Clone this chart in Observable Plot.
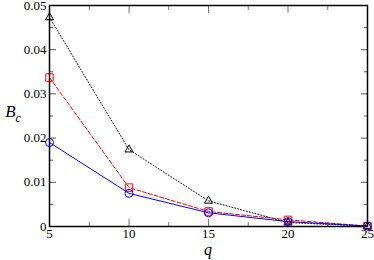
<!DOCTYPE html>
<html><head><meta charset="utf-8">
<script src="https://cdn.jsdelivr.net/npm/d3@7"></script>
<script src="https://cdn.jsdelivr.net/npm/@observablehq/plot@0.6"></script>
<style>body{margin:0;background:#fff}</style>
</head><body>
<div id="chart"></div>
<script>
const q = [5, 10, 15, 20, 25];
const triangle = [0.0473, 0.0174, 0.0058, 0.0009, 0.0001];
const square = [0.0337, 0.0088, 0.0034, 0.0015, 0.0001];
const circle = [0.0190, 0.0075, 0.0031, 0.0011, 0.0001];
const xTicks = [5, 10, 15, 20, 25];
const xMinor = [7.5, 12.5, 17.5, 22.5];
const yTicks = [0, 0.01, 0.02, 0.03, 0.04, 0.05];
const yMinor = [0.005, 0.015, 0.025, 0.035, 0.045];
const yLabels = ["0", "0.01", "0.02", "0.03", "0.04", "0.05"];

const rows = (vals) => q.map((x, i) => ({q: x, v: vals[i]}));

const chart = Plot.plot({
  width: 374, height: 260,
  marginLeft: 49, marginRight: 7, marginTop: 5, marginBottom: 34,
  style: {background: "#fff", color: "#000", overflow: "visible"},
  x: {domain: [5, 25]},
  y: {domain: [0, 0.05]},
  marks: [
    Plot.axisX(xTicks, {anchor: "bottom", tickSize: -7, tickPadding: 9, label: null, fontSize: 13, stroke: "#777"}),
    Plot.axisX(xMinor, {anchor: "bottom", tickSize: -4, tickFormat: () => "", label: null, stroke: "#777"}),
    Plot.axisX(xTicks, {anchor: "top", tickSize: -7, tickFormat: () => "", label: null, stroke: "#777"}),
    Plot.axisX(xMinor, {anchor: "top", tickSize: -4, tickFormat: () => "", label: null, stroke: "#777"}),
    Plot.axisY(yTicks, {anchor: "left", tickSize: -7, tickPadding: 10, tickFormat: (d, i) => yLabels[i], label: null, fontSize: 13, stroke: "#555"}),
    Plot.axisY(yMinor, {anchor: "left", tickSize: -4, tickFormat: () => "", label: null, stroke: "#555"}),
    Plot.axisY(yTicks, {anchor: "right", tickSize: -7, tickFormat: () => "", label: null, stroke: "#555"}),
    Plot.axisY(yMinor, {anchor: "right", tickSize: -4, tickFormat: () => "", label: null, stroke: "#555"}),
    Plot.line(rows(triangle), {x: "q", y: "v", stroke: "#000", strokeWidth: 1, strokeDasharray: "1,2"}),
    Plot.line(rows(square), {x: "q", y: "v", stroke: "#ff0000", strokeWidth: 1, strokeDasharray: "4,2"}),
    Plot.line(rows(circle), {x: "q", y: "v", stroke: "#0000ff", strokeWidth: 1}),
    Plot.dot(rows(triangle), {x: "q", y: "v", symbol: "triangle", r: 3, stroke: "#000", fill: "none", strokeWidth: 1}),
    Plot.dot(rows(square), {x: "q", y: "v", symbol: "square", r: 4.2, stroke: "#ff0000", fill: "none", strokeWidth: 1}),
    Plot.dot(rows(circle), {x: "q", y: "v", symbol: "circle", r: 4, stroke: "#0000ff", fill: "none", strokeWidth: 1}),
    Plot.frame({stroke: "#000", strokeWidth: 1.5})
  ]
});

const svg = d3.select(chart);
svg.append("text").attr("x", 208).attr("y", 255).attr("text-anchor", "middle")
  .attr("font-style", "italic").attr("font-size", 16).text("q");
const bl = svg.append("text").attr("x", 13).attr("y", 117).attr("text-anchor", "middle")
  .attr("font-style", "italic").attr("font-size", 17);
bl.append("tspan").text("B");
bl.append("tspan").attr("font-size", 12).attr("dy", 5).text("c");
svg.attr("font-family", "Liberation Serif");
svg.selectAll("text").attr("font-family", "Liberation Serif").style("font-family", "Liberation Serif");
document.getElementById("chart").append(chart);
</script>
</body></html>
